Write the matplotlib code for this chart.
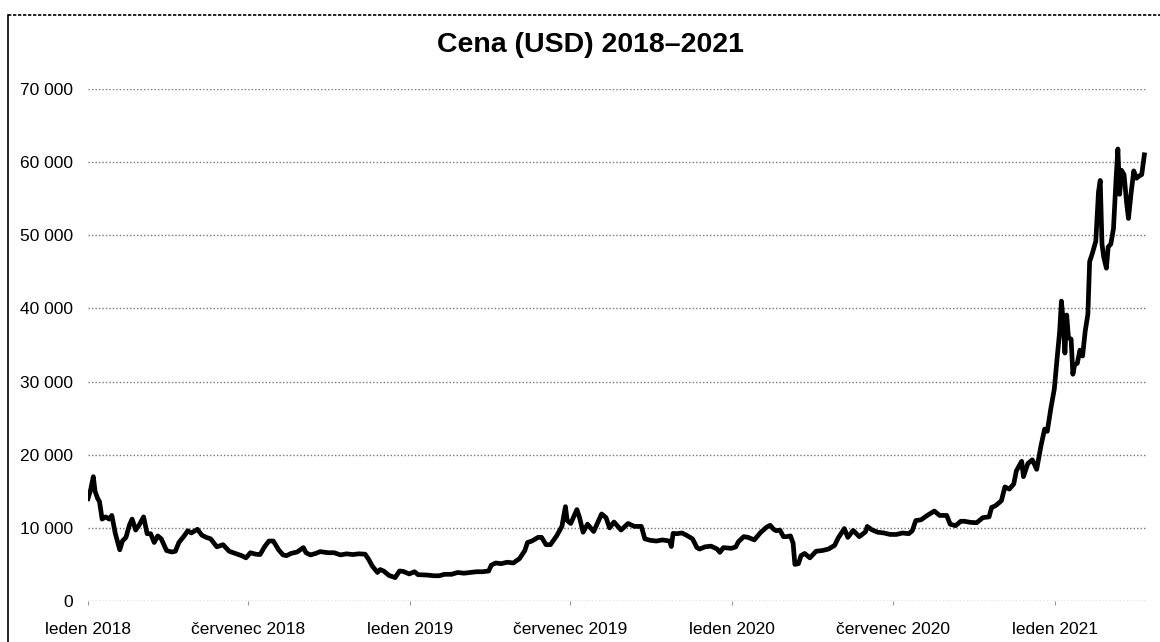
import matplotlib
matplotlib.use("Agg")
import matplotlib.pyplot as plt
import matplotlib.dates as mdates
from matplotlib.ticker import FuncFormatter
import pandas as pd
from matplotlib.lines import Line2D

title = "Cena (USD) 2018–2021"

dates = [
    "2018-01-01", "2018-01-04", "2018-01-07", "2018-01-09", "2018-01-12", "2018-01-14", "2018-01-17",
    "2018-01-21", "2018-01-25", "2018-01-28", "2018-02-01", "2018-02-03", "2018-02-06", "2018-02-09",
    "2018-02-13", "2018-02-17", "2018-02-20", "2018-02-24", "2018-02-28", "2018-03-05", "2018-03-09",
    "2018-03-13", "2018-03-17", "2018-03-21", "2018-03-25", "2018-03-31", "2018-04-06", "2018-04-10",
    "2018-04-14", "2018-04-20", "2018-04-24", "2018-04-28", "2018-05-05", "2018-05-10", "2018-05-15",
    "2018-05-20", "2018-05-27", "2018-06-03", "2018-06-10", "2018-06-17", "2018-06-24", "2018-06-29",
    "2018-07-04", "2018-07-10", "2018-07-15", "2018-07-20", "2018-07-25", "2018-07-30", "2018-08-05",
    "2018-08-10", "2018-08-14", "2018-08-19", "2018-08-26", "2018-09-02", "2018-09-05", "2018-09-10",
    "2018-09-16", "2018-09-21", "2018-09-30", "2018-10-07", "2018-10-14", "2018-10-21", "2018-10-28",
    "2018-11-04", "2018-11-11", "2018-11-15", "2018-11-19", "2018-11-25", "2018-11-28", "2018-12-02",
    "2018-12-08", "2018-12-15", "2018-12-20", "2018-12-24", "2018-12-31",
    "2019-01-06", "2019-01-10", "2019-01-20", "2019-01-28", "2019-02-03", "2019-02-09", "2019-02-17",
    "2019-02-24", "2019-03-03", "2019-03-10", "2019-03-17", "2019-03-24", "2019-03-31", "2019-04-03",
    "2019-04-08", "2019-04-14", "2019-04-21", "2019-04-28", "2019-05-05", "2019-05-11", "2019-05-14",
    "2019-05-19", "2019-05-26", "2019-05-30", "2019-06-04", "2019-06-09", "2019-06-16", "2019-06-22",
    "2019-06-26", "2019-06-28", "2019-07-02", "2019-07-09", "2019-07-12", "2019-07-16", "2019-07-21",
    "2019-07-28", "2019-08-06", "2019-08-11", "2019-08-15", "2019-08-20", "2019-08-28", "2019-09-05",
    "2019-09-12", "2019-09-20", "2019-09-24", "2019-09-30", "2019-10-07", "2019-10-14", "2019-10-22",
    "2019-10-24", "2019-10-26", "2019-10-30", "2019-11-05", "2019-11-10", "2019-11-17", "2019-11-22",
    "2019-11-25", "2019-12-01", "2019-12-08", "2019-12-15", "2019-12-18", "2019-12-22", "2019-12-31",
    "2020-01-05", "2020-01-08", "2020-01-14", "2020-01-19", "2020-01-26", "2020-02-02", "2020-02-09",
    "2020-02-13", "2020-02-17", "2020-02-20", "2020-02-24", "2020-02-28", "2020-03-03", "2020-03-07",
    "2020-03-10", "2020-03-12", "2020-03-16", "2020-03-19", "2020-03-23", "2020-03-29", "2020-04-05",
    "2020-04-12", "2020-04-19", "2020-04-26", "2020-04-30", "2020-05-07", "2020-05-11", "2020-05-17",
    "2020-05-24", "2020-05-31", "2020-06-02", "2020-06-07", "2020-06-14", "2020-06-21", "2020-06-28",
    "2020-07-05", "2020-07-12", "2020-07-19", "2020-07-23", "2020-07-27", "2020-08-02", "2020-08-09",
    "2020-08-17", "2020-08-23", "2020-08-31", "2020-09-04", "2020-09-10", "2020-09-16", "2020-09-20",
    "2020-09-27", "2020-10-04", "2020-10-11", "2020-10-18", "2020-10-21", "2020-10-25", "2020-11-01",
    "2020-11-05", "2020-11-10", "2020-11-15", "2020-11-18", "2020-11-24", "2020-11-26", "2020-12-01",
    "2020-12-06", "2020-12-11", "2020-12-16", "2020-12-20", "2020-12-23", "2020-12-27", "2020-12-31",
    "2021-01-03", "2021-01-06", "2021-01-08", "2021-01-10", "2021-01-12", "2021-01-14", "2021-01-16",
    "2021-01-19", "2021-01-21", "2021-01-23", "2021-01-26", "2021-01-29", "2021-02-01", "2021-02-04",
    "2021-02-07", "2021-02-09", "2021-02-12", "2021-02-16", "2021-02-19", "2021-02-21", "2021-02-23",
    "2021-02-25", "2021-02-28", "2021-03-02", "2021-03-05", "2021-03-08", "2021-03-11", "2021-03-13",
    "2021-03-15", "2021-03-17", "2021-03-20", "2021-03-23", "2021-03-25", "2021-03-28", "2021-03-31",
    "2021-04-03", "2021-04-06", "2021-04-09", "2021-04-12",
]

prices = [
    14000, 15200, 17000, 15000, 14000, 13600, 11200,
    11500, 11200, 11700, 9200, 8300, 7000, 8200,
    8700, 10400, 11200, 9700, 10400, 11500, 9200,
    9200, 8000, 8900, 8500, 6900, 6700, 6800,
    8000, 8900, 9600, 9300, 9800, 9000, 8700,
    8500, 7400, 7700, 6800, 6500, 6200, 5900,
    6600, 6400, 6350, 7400, 8200, 8200, 7000,
    6300, 6200, 6500, 6700, 7300, 6600, 6300,
    6500, 6750, 6600, 6600, 6300, 6450, 6350,
    6450, 6400, 5700, 4800, 3900, 4300, 4100,
    3500, 3200, 4100, 4050, 3700,
    4000, 3600, 3550, 3450, 3450, 3650, 3650,
    3900, 3800, 3900, 4000, 4000, 4100, 4900,
    5200, 5100, 5300, 5200, 5800, 6900, 8000,
    8200, 8700, 8700, 7700, 7700, 8900, 10200,
    12900, 11000, 10600, 12500, 11400, 9400, 10500,
    9500, 11900, 11400, 10000, 10800, 9700, 10600,
    10200, 10200, 8500, 8300, 8200, 8350, 8200,
    7450, 9250, 9200, 9300, 9000, 8500, 7300,
    7100, 7400, 7500, 7100, 6650, 7300, 7200,
    7400, 8100, 8800, 8700, 8350, 9350, 10100,
    10350, 9800, 9600, 9700, 8800, 8800, 8900,
    7900, 5000, 5100, 6200, 6500, 5900, 6800,
    6900, 7100, 7600, 8600, 9900, 8700, 9650,
    8800, 9450, 10200, 9750, 9400, 9300, 9100,
    9100, 9300, 9200, 9600, 11000, 11100, 11700,
    12300, 11700, 11700, 10500, 10300, 10900, 10900,
    10750, 10700, 11400, 11500, 12800, 13000, 13700,
    15600, 15300, 16000, 17800, 19100, 17000, 18800,
    19300, 18000, 21300, 23500, 23200, 26300, 29000,
    33000, 36800, 41000, 38300, 33900, 39100, 36000,
    35800, 31000, 32300, 32500, 34300, 33500, 36900,
    39200, 46400, 47500, 49200, 55900, 57500, 48800,
    47000, 45500, 48400, 48800, 50900, 57800, 61800,
    55600, 58900, 58300, 54300, 52300, 55800, 58800,
    57800, 58100, 58300, 61000,
]

tick_dates = ["2018-01-01", "2018-07-01", "2019-01-01", "2019-07-01",
              "2020-01-01", "2020-07-01", "2021-01-01"]
tick_labels = ["leden 2018", "červenec 2018", "leden 2019", "červenec 2019",
               "leden 2020", "červenec 2020", "leden 2021"]
y_ticks = [0, 10000, 20000, 30000, 40000, 50000, 60000, 70000]

plt.rcParams['font.family'] = ['Liberation Sans', 'DejaVu Sans']

W, H = 1160, 642
fig = plt.figure(figsize=(W / 100, H / 100), dpi=100)
ax = fig.add_axes([88 / W, 1 - 601 / H, (1147 - 88) / W, (601 - 89) / H])

x = pd.to_datetime(dates)
ax.plot(x, prices, color="black", lw=3.4, solid_joinstyle="round", zorder=3)

ax.set_xlim(pd.Timestamp("2018-01-01"), pd.Timestamp("2021-04-15"))
ax.set_ylim(0, 70000)
ax.set_yticks(y_ticks)
ax.yaxis.set_major_formatter(FuncFormatter(lambda v, p: f"{int(v):,}".replace(",", " ")))
ax.set_xticks(pd.to_datetime(tick_dates))
ax.set_xticklabels(tick_labels)

for s in ax.spines.values():
    s.set_visible(False)
ax.grid(axis="y", color="#777777", lw=1.0, ls=(0, (1, 1.5)), zorder=1)
ax.tick_params(axis="y", length=0, pad=11, labelsize=12.5)
ax.tick_params(axis="x", length=3, color="#999999", pad=12, labelsize=12.5)

fig.text(590 / W, 1 - 45 / H, title, ha="center", va="center",
         fontsize=20.5, fontweight="bold")

# frame of the scanned page
fig.add_artist(Line2D([8 / W, 8 / W], [0, 1 - 15 / H], transform=fig.transFigure,
                      color="black", lw=1.2))
fig.add_artist(Line2D([8 / W, 1], [1 - 15 / H, 1 - 15 / H], transform=fig.transFigure,
                      color="black", lw=1.2, ls=(0, (2, 1))))

fig.savefig("out.png", dpi=100)
